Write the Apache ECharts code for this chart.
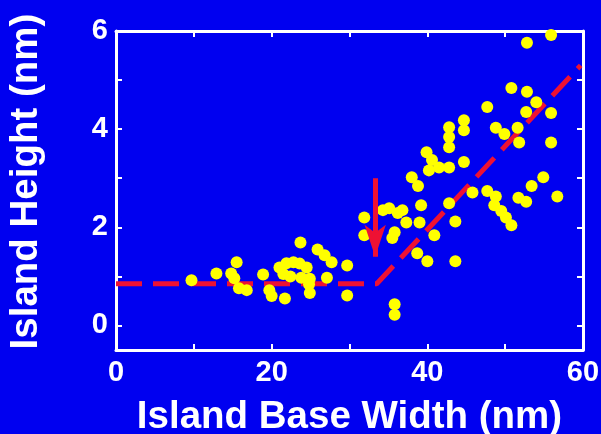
<!DOCTYPE html>
<html><head><meta charset="utf-8">
<script src="https://cdn.jsdelivr.net/npm/echarts@6/dist/echarts.min.js"></script>
<style>html,body{margin:0;padding:0;background:#0000f0}#c{width:601px;height:434px}</style>
</head><body><div id="c"></div>
<script>
const xLabelValues = [0, 20, 40, 60];
const yLabelValues = [0, 2, 4, 6];
const yTickValues = [0, 1, 2, 3, 4, 5, 6];
const lowIslands = [
  [9.7,0.92],[12.9,1.06],[14.8,1.06],[15.5,1.29],[15.2,0.96],[15.8,0.76],[16.8,0.72],
  [18.9,1.04],[19.7,0.72],[20.0,0.60],[21.7,0.55],[21.0,1.18],[21.9,1.27],[22.8,1.29],
  [23.7,1.69],[23.6,1.26],[24.5,1.18],[22.4,1.00],[23.8,0.97],[24.8,0.84],[24.9,0.66],
  [25.9,1.55],[26.8,1.43],[27.7,1.29],[27.1,0.97],[29.7,1.22],[29.7,0.61],[21.5,1.05],[24.9,0.95]
];
const midIslands = [
  [31.9,2.20],[31.9,1.84],[35.8,0.43],[35.8,0.22],[35.1,2.39],[36.2,2.29],[37.3,2.10],
  [39.0,2.10],[39.2,2.45],[35.8,1.90],[35.5,1.78],[40.9,1.84],[38.7,1.47],[40.0,1.31],
  [43.6,2.12],[43.6,1.31],[42.8,2.49],[38.0,3.02],[38.8,2.84],[40.2,3.16],[41.5,3.22],
  [42.8,3.22],[39.9,3.53],[40.6,3.37],[42.8,4.04],[42.8,3.84],[42.8,3.63],[44.7,4.18],
  [44.7,3.98],[44.7,3.33],[34.3,2.35],[36.8,2.35]
];
const highIslands = [
  [45.8,2.71],[47.7,2.74],[48.8,2.63],[48.6,2.45],[49.5,2.33],[50.1,2.20],[50.8,2.04],
  [51.7,2.60],[52.7,2.52],[53.4,2.84],[54.9,3.02],[56.7,2.63],[52.8,5.76],[55.9,5.92],
  [50.8,4.84],[52.8,4.76],[54.0,4.55],[52.7,4.35],[55.9,4.33],[47.7,4.45],[48.8,4.03],
  [49.9,3.90],[51.6,4.03],[51.8,3.73],[55.9,3.73]
];
const fitLine = [[0,0.85],[33.5,0.85],[59.7,5.3]];
const arrowStart = [33.3, 3.0];
const arrowEnd = [33.3, 1.4];
const bLabelPos = [32.4, 4.29];
const cLabelPos = [34.95, 3.80];

const white = '#ffffff';
const yellow = '#ffff00';
const font = 'Liberation Sans, Arial, sans-serif';
const chart = echarts.init(document.getElementById('c'));
const frameLine = {show: true, onZero: false, lineStyle: {color: white, width: 3}};
chart.setOption({
  backgroundColor: '#0000f0',
  animation: false,
  grid: {left: 116, right: 18, top: 31, bottom: 84, outerBoundsMode: 'none', containLabel: false},
  xAxis: [
    {type: 'value', min: 0, max: 60, interval: 10, position: 'bottom',
     axisLine: frameLine, splitLine: {show: false},
     axisTick: {inside: true, length: 6, lineStyle: {color: white, width: 2}},
     axisLabel: {customValues: xLabelValues, color: white, fontFamily: font, fontWeight: 'bold', fontSize: 29, margin: 8},
     name: 'Island Base Width (nm)', nameLocation: 'middle', nameGap: 48,
     nameTextStyle: {color: white, fontFamily: font, fontWeight: 'bold', fontSize: 38.5}},
    {type: 'value', min: 0, max: 60, interval: 10, position: 'top',
     axisLine: frameLine, splitLine: {show: false},
     axisTick: {inside: true, length: 6, lineStyle: {color: white, width: 2}},
     axisLabel: {show: false}}
  ],
  yAxis: [
    {type: 'value', min: -0.5, max: 6, position: 'left',
     axisLine: frameLine, splitLine: {show: false},
     axisTick: {inside: true, length: 6, customValues: yTickValues, lineStyle: {color: white, width: 2}},
     axisLabel: {customValues: yLabelValues, color: white, fontFamily: font, fontWeight: 'bold', fontSize: 29, margin: 8},
     name: 'Island Height (nm)', nameLocation: 'middle', nameGap: 70,
     nameTextStyle: {color: white, fontFamily: font, fontWeight: 'bold', fontSize: 38.5, padding: [0, 0, 0, 18]}},
    {type: 'value', min: -0.5, max: 6, position: 'right',
     axisLine: frameLine, splitLine: {show: false},
     axisTick: {inside: true, length: 6, customValues: yTickValues, lineStyle: {color: white, width: 2}},
     axisLabel: {show: false}}
  ],
  series: [
    {type: 'line', data: fitLine, symbol: 'none', z: 2,
     lineStyle: {color: '#ee1133', width: 5, type: [26, 11]},
     markLine: {silent: true, symbol: ['none', 'arrow'], symbolSize: [16, 32],
       label: {show: false},
       lineStyle: {color: '#ee1133', width: 5, type: 'solid'},
       data: [[{coord: arrowStart}, {coord: arrowEnd}]], z: 5}},
    {type: 'scatter', data: lowIslands, symbolSize: 12, itemStyle: {color: yellow, opacity: 1}, z: 3},
    {type: 'scatter', data: midIslands, symbolSize: 12, itemStyle: {color: yellow, opacity: 1}, z: 3},
    {type: 'scatter', data: highIslands, symbolSize: 12, itemStyle: {color: yellow, opacity: 1}, z: 3},
    {type: 'scatter', data: [bLabelPos], symbolSize: 1, itemStyle: {opacity: 0}, z: 6,
     label: {show: true, position: 'inside', formatter: 'b', color: white, fontFamily: font, fontStyle: 'italic', fontSize: 42}},
    {type: 'scatter', data: [cLabelPos], symbolSize: 1, itemStyle: {opacity: 0}, z: 6,
     label: {show: true, position: 'inside', formatter: 'c', color: white, fontFamily: font, fontSize: 23}}
  ]
});
</script></body></html>
